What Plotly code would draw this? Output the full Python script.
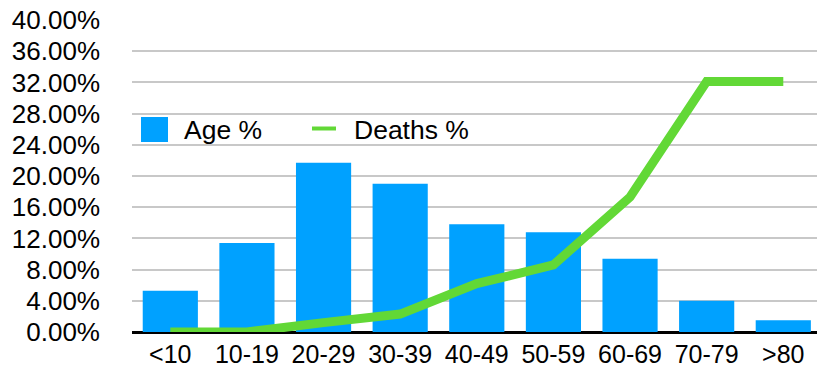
import plotly.graph_objects as go

# Age groups and their shares (fractions)
age_groups = ["<10", "10-19", "20-29", "30-39", "40-49", "50-59", "60-69", "70-79", ">80"]
age_pct = [0.053, 0.114, 0.217, 0.190, 0.138, 0.128, 0.094, 0.040, 0.015]
deaths_pct = [0.0, 0.0, 0.012, 0.023, 0.062, 0.086, 0.173, 0.321, 0.321]
y_ticks = [0.00, 0.04, 0.08, 0.12, 0.16, 0.20, 0.24, 0.28, 0.32, 0.36, 0.40]

BAR_COLOR = "#00a1ff"
LINE_COLOR = "#62d836"
FONT = "Liberation Sans, Arial, Helvetica, sans-serif"

W, H = 817, 373
L, R, T, B = 132, 0, 20, 41

fig = go.Figure()
fig.add_trace(go.Bar(
    x=age_groups, y=age_pct, name="Age %",
    marker=dict(color=BAR_COLOR, line=dict(width=0)),
    showlegend=False,
))
fig.add_trace(go.Scatter(
    x=age_groups, y=deaths_pct, name="Deaths %", mode="lines",
    line=dict(color=LINE_COLOR, width=9),
    showlegend=False,
))

# Hand-drawn legend placed in pixel coordinates converted to paper space
pw, ph = W - L - R, H - T - B


def px_x(x):
    return (x - L) / pw


def px_y(y):
    return (H - B - y) / ph


shapes = [
    dict(type="rect", xref="paper", yref="paper",
         x0=px_x(141), x1=px_x(168), y0=px_y(142), y1=px_y(117),
         fillcolor=BAR_COLOR, line=dict(width=0)),
    dict(type="line", xref="paper", yref="paper",
         x0=px_x(312), x1=px_x(336), y0=px_y(128.5), y1=px_y(128.5),
         line=dict(color=LINE_COLOR, width=4)),
]
annotations = [
    dict(text="Age %", xref="paper", yref="paper", x=px_x(182), y=px_y(130),
         xanchor="left", yanchor="middle", showarrow=False,
         font=dict(size=26.5, color="#000000", family=FONT)),
    dict(text="Deaths %", xref="paper", yref="paper", x=px_x(352), y=px_y(130),
         xanchor="left", yanchor="middle", showarrow=False,
         font=dict(size=26.5, color="#000000", family=FONT)),
]

fig.update_layout(
    width=W, height=H,
    margin=dict(l=L, r=R, t=T, b=B, autoexpand=False),
    paper_bgcolor="white", plot_bgcolor="white",
    font=dict(family=FONT, size=26, color="#000000"),
    bargap=0.28,
    shapes=shapes,
    annotations=annotations,
)
fig.update_xaxes(
    type="category", range=[-0.5, 8.44], automargin=False,
    showgrid=False, showline=False, zeroline=False, ticks="",
    ticklabelstandoff=5,
    tickfont=dict(size=25, family=FONT, color="#000000"),
)
fig.update_yaxes(
    range=[0, 0.40], tickvals=y_ticks, tickformat=".2%", automargin=False,
    showgrid=True, gridcolor="#c8c8c8", gridwidth=1.5,
    zeroline=True, zerolinecolor="#000000", zerolinewidth=2.5,
    showline=False, ticks="",
    ticklabelstandoff=31,
    tickfont=dict(size=26, family=FONT, color="#000000"),
)

fig.write_html("out.html")
